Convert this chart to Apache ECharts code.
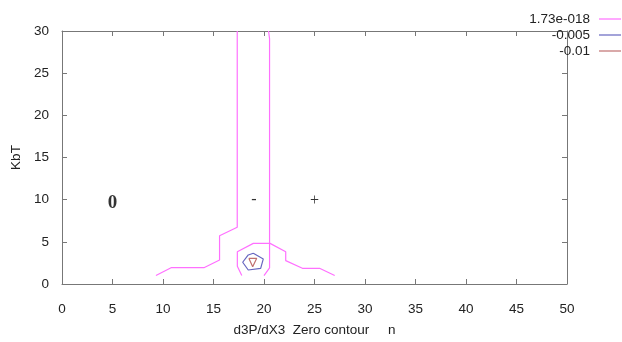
<!DOCTYPE html>
<html>
<head>
<meta charset="utf-8">
<script src="https://cdn.jsdelivr.net/npm/echarts@6/dist/echarts.min.js"></script>
<style>html,body{margin:0;padding:0;background:#fff}#c{width:622px;height:342px}</style>
</head>
<body>
<div id="c"></div>
<script>
// Contour levels (legend)
var levelNames = ['1.73e-018', '-0.005', '-0.01'];
// Zero contour polylines [x, y]
var zeroLeft = [[9.3,1.0],[10.8,1.93],[14.05,1.93],[15.6,2.85],[15.6,5.73],[17.35,6.72],[17.35,30]];
var zeroRight = [[20.45,30],[20.55,29.1],[20.55,1.9],[20.0,1.0]];
var zeroBump = [[17.8,1.0],[17.36,2.1],[17.36,3.83],[18.94,4.82],[20.6,4.82],[22.15,3.83],[22.15,2.77],[23.8,1.86],[25.5,1.86],[27.0,1.0]];
// -0.005 contour
var level005 = [[18.94,3.64],[19.93,2.97],[19.67,1.86],[18.44,1.66],[17.89,2.58],[18.44,3.44],[18.94,3.64]];
// -0.01 contour
var level01 = [[18.5,3.05],[19.28,3.05],[18.88,2.05],[18.5,3.05]];
// Region annotations
var noteText = ['0', '-', '+'];
var noteX = [5, 19, 25];
var noteY = [9.6, 10, 9.9];
// Ticks
var xTicks = [0,5,10,15,20,25,30,35,40,45,50];
var yTicks = [0,5,10,15,20,25,30];

var colors = ['#ff70ff', '#6666c0', '#c07070'];
var font = 'Liberation Sans, Arial, sans-serif';
var fs = 13.5;
var chart = echarts.init(document.getElementById('c'), null, {renderer: 'canvas'});

function lineSeries(name, data, color) {
  return {
    name: name, type: 'line', data: data, symbol: 'none', showSymbol: false,
    xAxisIndex: 0, yAxisIndex: 0,
    lineStyle: {color: color, width: 1.2}, itemStyle: {color: color},
    animation: false, silent: true
  };
}
var axisLine = {show: true, onZero: false, lineStyle: {color: '#777', width: 1}};
var tick = {show: true, inside: true, length: 5, lineStyle: {color: '#777'}};
var notes = noteText.map(function (t, i) {
  return {
    value: [noteX[i], noteY[i]],
    label: {
      show: true, position: 'inside', formatter: t,
      fontFamily: 'Liberation Serif, Times New Roman, serif',
      fontSize: i === 0 ? 19 : 16, fontWeight: i === 0 ? 'bold' : 'normal', color: '#000'
    }
  };
});

chart.setOption({
  animation: false,
  grid: {left: 62, right: 55, top: 31, bottom: 58, containLabel: false, outerBoundsMode: 'none'},
  legend: {
    data: levelNames, orient: 'vertical', right: -4, top: 7, align: 'right',
    itemWidth: 22, itemHeight: 1.2, itemGap: 2, icon: 'rect',
    textStyle: {fontFamily: font, fontSize: fs, color: '#222', padding: [0, 4, 0, 0]}
  },
  xAxis: [{
    type: 'value', min: 0, max: 50, interval: 5, position: 'bottom',
    name: 'd3P/dX3  Zero contour     n', nameLocation: 'middle', nameGap: 39,
    nameTextStyle: {fontFamily: font, fontSize: fs, color: '#222'},
    axisLine: axisLine, axisTick: tick, splitLine: {show: false},
    axisLabel: {fontFamily: font, fontSize: fs, color: '#222', margin: 18,
      formatter: function (v) { return xTicks.indexOf(v) >= 0 ? String(v) : ''; }}
  }, {
    type: 'value', min: 0, max: 50, interval: 5, position: 'top',
    axisLine: axisLine, axisTick: tick, splitLine: {show: false}, axisLabel: {show: false}
  }],
  yAxis: [{
    type: 'value', min: 0, max: 30, interval: 5, position: 'left',
    name: 'KbT', nameLocation: 'middle', nameGap: 27, nameRotate: 90,
    nameTextStyle: {fontFamily: font, fontSize: fs, color: '#222'},
    axisLine: axisLine, axisTick: tick, splitLine: {show: false},
    axisLabel: {fontFamily: font, fontSize: fs, color: '#222', margin: 13,
      formatter: function (v) { return yTicks.indexOf(v) >= 0 ? String(v) : ''; }}
  }, {
    type: 'value', min: 0, max: 30, interval: 5, position: 'right',
    axisLine: axisLine, axisTick: tick, splitLine: {show: false}, axisLabel: {show: false}
  }],
  series: [
    lineSeries(levelNames[0], zeroLeft, colors[0]),
    lineSeries(levelNames[0], zeroRight, colors[0]),
    lineSeries(levelNames[0], zeroBump, colors[0]),
    lineSeries(levelNames[1], level005, colors[1]),
    lineSeries(levelNames[2], level01, colors[2]),
    {type: 'scatter', data: notes, symbolSize: 0, silent: true, animation: false,
     xAxisIndex: 0, yAxisIndex: 0, itemStyle: {color: 'transparent'}}
  ]
});
</script>
</body>
</html>
